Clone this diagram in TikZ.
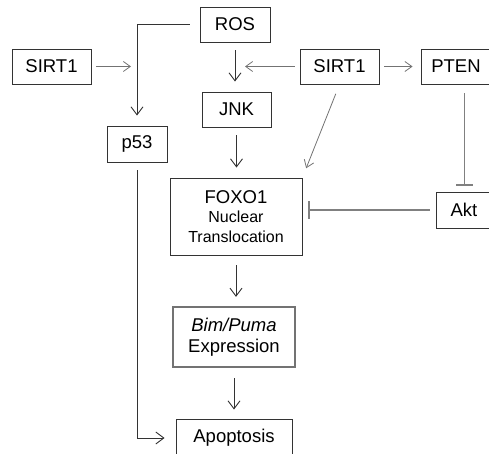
\documentclass[tikz,border=0pt]{standalone}
\usepackage{fontspec}
\setmainfont{Liberation Sans}
\usetikzlibrary{arrows.meta}

\begin{document}
\begin{tikzpicture}[x=1pt,y=-1pt,
  box/.style={draw=black!80,line width=0.9pt,inner sep=0pt,align=center,font=\fontsize{18.5}{21}\selectfont},
  arr/.style={draw=black!80,line width=0.9pt,-{Straight Barb[length=8pt,width=12pt]}},
  thinarr/.style={draw=black!55,line width=0.8pt,-{Straight Barb[length=7pt,width=10pt]}},
  inhib/.style={draw=black!50,-{Bar[width=17pt,line width=1.2pt]}}]
\useasboundingbox (0,0) rectangle (489,454);
\node [box,minimum width=70pt,minimum height=35pt] (ros) at (235,24.5) {ROS};
\node [box,minimum width=79pt,minimum height=35pt] (sirtL) at (51.5,66.5) {SIRT1};
\node [box,minimum width=79pt,minimum height=35pt] (sirtR) at (339.5,66.5) {SIRT1};
\node [box,minimum width=70pt,minimum height=35pt] (pten) at (456,66.5) {PTEN};
\node [box,minimum width=69pt,minimum height=35pt] (jnk) at (236.5,109.5) {JNK};
\node [box,minimum width=60pt,minimum height=36pt] (p53) at (137,144) {p53};
\node [box,minimum width=132pt,minimum height=77pt,font=\fontsize{16}{19.5}\selectfont] (foxo) at (236,216.5) {{\fontsize{18.5}{21}\selectfont FOXO1}\\Nuclear\\Translocation};
\node [box,minimum width=56pt,minimum height=36pt] (akt) at (464,210) {Akt};
\node [box,draw=black!55,line width=2.2pt,minimum width=122pt,minimum height=60pt] (bim) at (234,337) {\textit{Bim/Puma}\\Expression};
\node [box,minimum width=116pt,minimum height=38pt] (apop) at (234,438) {Apoptosis};
\draw [arr,shorten <=10pt,shorten >=10pt] (ros.west) -| (p53.north);
\draw [thinarr,shorten <=5pt,shorten >=6pt] (sirtL.east) -- (sirtL.east -| p53.north);
\draw [arr,shorten <=8pt,shorten >=10pt] (ros.south) -- (ros.south |- jnk.north);
\draw [thinarr,shorten <=5pt,shorten >=10pt] (sirtR.west) -- (sirtR.west -| ros.south);
\draw [thinarr,shorten <=5pt,shorten >=8pt] (sirtR.east) -- (pten.west);
\draw [thinarr,shorten <=10pt,shorten >=10pt] (sirtR.south) -- (foxo.north east);
\draw [arr,shorten <=8pt,shorten >=10pt] (jnk.south) -- (jnk.south |- foxo.north);
\draw [inhib,line width=1pt,shorten <=9pt,shorten >=6pt] (pten.south -| akt.north) -- (akt.north);
\draw [inhib,line width=2.4pt,shorten <=6pt,shorten >=6pt] (akt.west) -- (akt.west -| foxo.east);
\draw [arr,shorten <=10pt,shorten >=9pt] (foxo.south) -- (foxo.south |- bim.north);
\draw [arr,shorten <=10pt,shorten >=9pt] (bim.south) -- (bim.south |- apop.north);
\draw [arr,shorten <=8pt,shorten >=11pt] (p53.south) |- (apop.west);
\end{tikzpicture}
\end{document}
